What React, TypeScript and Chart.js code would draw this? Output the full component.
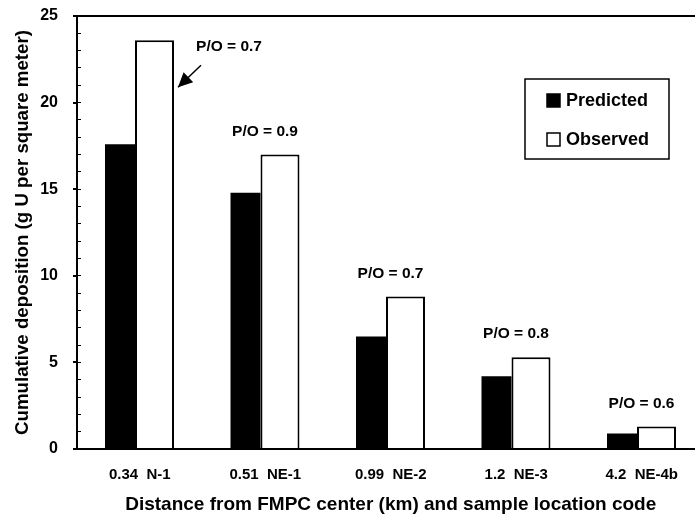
import React, { useEffect, useRef } from 'react';
import { Chart, registerables } from 'chart.js';

Chart.register(...registerables);

// ---- data ----
const categories = ['0.34  N-1', '0.51  NE-1', '0.99  NE-2', '1.2  NE-3', '4.2  NE-4b'];
const predicted = [17.6, 14.8, 6.5, 4.2, 0.9];
const observed = [23.6, 17.0, 8.8, 5.3, 1.3];
const ratioLabels = ['P/O = 0.7', 'P/O = 0.9', 'P/O = 0.7', 'P/O = 0.8', 'P/O = 0.6'];
const seriesNames = ['Predicted', 'Observed'];
const yMin = 0;
const yMax = 25;
const yMajorStep = 5;
const yMinorStep = 1;
const xTitle = 'Distance from FMPC center (km) and sample location code';
const yTitle = 'Cumulative deposition (g U per square meter)';

const FONT = '"Liberation Sans", Arial, Helvetica, sans-serif';

const annotationPlugin = {
  id: 'poAnnotations',
  afterDatasetsDraw(chart: any) {
    const ctx = chart.ctx;
    const pMeta = chart.getDatasetMeta(0);
    const oMeta = chart.getDatasetMeta(1);
    ctx.save();
    ctx.fillStyle = '#000';
    ctx.strokeStyle = '#000';
    ctx.font = `bold 15.5px ${FONT}`;
    ctx.textAlign = 'center';
    ctx.textBaseline = 'middle';
    ratioLabels.forEach((txt, i) => {
      const p = pMeta.data[i];
      const o = oMeta.data[i];
      if (!p || !o) return;
      const left = p.x - p.width / 2;
      const right = o.x + o.width / 2;
      if (i === 0) {
        // label to the right with an arrow pointing at the observed bar
        ctx.fillText(txt, right + 55, o.y + 6);
        const tipX = right + 4;
        const tipY = o.y + 47;
        const tailX = right + 27;
        const tailY = o.y + 25;
        ctx.lineWidth = 1.5;
        ctx.beginPath();
        ctx.moveTo(tailX, tailY);
        ctx.lineTo(tipX, tipY);
        ctx.stroke();
        const ang = Math.atan2(tipY - tailY, tipX - tailX);
        const len = 16;
        const half = 0.45;
        ctx.beginPath();
        ctx.moveTo(tipX, tipY);
        ctx.lineTo(tipX - len * Math.cos(ang - half), tipY - len * Math.sin(ang - half));
        ctx.lineTo(tipX - len * Math.cos(ang + half), tipY - len * Math.sin(ang + half));
        ctx.closePath();
        ctx.fill();
      } else {
        ctx.fillText(txt, (left + right) / 2, o.y - 23);
      }
    });
    ctx.restore();
  },
};

const legendPlugin = {
  id: 'boxedLegend',
  afterDraw(chart: any) {
    const ctx = chart.ctx;
    const area = chart.chartArea;
    const bx = area.left + 448;
    const by = area.top + 63;
    const bw = 144;
    const bh = 80;
    ctx.save();
    ctx.fillStyle = '#fff';
    ctx.fillRect(bx, by, bw, bh);
    ctx.strokeStyle = '#000';
    ctx.lineWidth = 1.5;
    ctx.strokeRect(bx, by, bw, bh);
    ctx.font = `bold 18px ${FONT}`;
    ctx.textAlign = 'left';
    ctx.textBaseline = 'middle';
    chart.data.datasets.forEach((ds: any, i: number) => {
      const cy = by + 21 + i * 39;
      const sx = bx + 22;
      ctx.fillStyle = ds.backgroundColor;
      ctx.fillRect(sx, cy - 6, 13, 13);
      ctx.strokeStyle = '#000';
      ctx.lineWidth = 1.5;
      ctx.strokeRect(sx, cy - 6, 13, 13);
      ctx.fillStyle = '#000';
      ctx.fillText(ds.label, sx + 19, cy + 1);
    });
    ctx.restore();
  },
};

export default function App() {
  const ref = useRef<HTMLCanvasElement | null>(null);

  useEffect(() => {
    if (!ref.current) return;
    const chart = new Chart(ref.current, {
      type: 'bar',
      data: {
        labels: categories,
        datasets: [
          {
            label: seriesNames[0],
            data: predicted,
            backgroundColor: '#000',
            borderColor: '#000',
            borderWidth: 0,
            barPercentage: 0.7595,
            categoryPercentage: 0.6295,
            xAxisID: 'x',
            yAxisID: 'y',
          },
          {
            label: seriesNames[1],
            data: observed,
            backgroundColor: '#fff',
            borderColor: '#000',
            borderWidth: 2,
            barPercentage: 1.322,
            categoryPercentage: 0.4701,
            xAxisID: 'x',
            yAxisID: 'y',
          },
        ],
      },
      options: {
        animation: false,
        responsive: false,
        layout: { padding: { top: 16, right: 15.5, left: 0, bottom: 0 } },
        plugins: {
          legend: { display: false },
          tooltip: { enabled: false },
        },
        scales: {
          x: {
            type: 'category',
            grid: { display: false, drawTicks: false },
            border: { display: true, color: '#000', width: 2 },
            ticks: {
              color: '#000',
              font: { family: FONT, size: 15, weight: 'bold' },
              padding: 17,
              maxRotation: 0,
              autoSkip: false,
            },
            title: {
              display: true,
              text: xTitle,
              color: '#000',
              font: { family: FONT, size: 19, weight: 'bold' },
              padding: { top: 0, bottom: 2 },
            },
            afterFit: (s: any) => {
              s.height = 69;
              s.paddingLeft = 0;
              s.paddingRight = 0;
            },
          },
          y: {
            type: 'linear',
            position: 'left',
            weight: 1,
            min: yMin,
            max: yMax,
            ticks: {
              stepSize: yMajorStep,
              color: '#000',
              font: { family: FONT, size: 16, weight: 'bold' },
              padding: 15,
            },
            grid: {
              drawTicks: true,
              tickLength: 4,
              tickColor: '#000',
              tickWidth: 2,
              lineWidth: 2,
              color: (c: any) => (c.tick && c.tick.value === yMax ? '#000' : 'rgba(0,0,0,0)'),
            },
            border: { display: true, color: '#000', width: 2 },
            title: {
              display: true,
              text: yTitle,
              color: '#000',
              font: { family: FONT, size: 18.7, weight: 'bold' },
              padding: { top: 12, bottom: 0 },
            },
            afterFit: (s: any) => {
              s.width = 77;
              s.paddingTop = 0;
              s.paddingBottom = 0;
            },
          },
          yMinor: {
            type: 'linear',
            position: 'left',
            weight: 0,
            min: yMin,
            max: yMax,
            ticks: { display: false, stepSize: yMinorStep },
            grid: {
              drawOnChartArea: false,
              drawTicks: true,
              tickLength: -4,
              tickColor: '#000',
              tickWidth: 1,
            },
            border: { display: false },
            afterFit: (s: any) => {
              s.width = 0;
              s.paddingTop = 0;
              s.paddingBottom = 0;
            },
          },
        },
      } as any,
      plugins: [annotationPlugin, legendPlugin],
    });
    return () => chart.destroy();
  }, []);

  return (
    <div
      style={{
        position: 'absolute',
        left: 0,
        top: 0,
        width: 695,
        height: 518,
        overflow: 'hidden',
        background: '#fff',
      }}
    >
      <canvas ref={ref} width={720} height={518} style={{ display: 'block' }} />
    </div>
  );
}
